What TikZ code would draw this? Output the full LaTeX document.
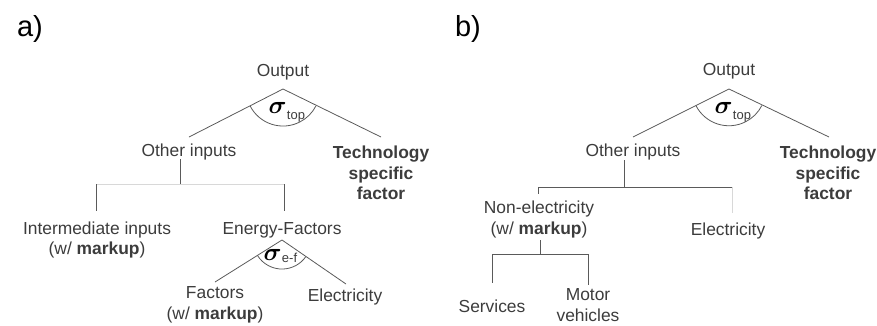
\documentclass[tikz,border=0pt]{standalone}
\usepackage{fontspec}
\setmainfont{Liberation Sans}
\usetikzlibrary{calc}
\definecolor{txt}{HTML}{3C3C3C}
\definecolor{ln}{HTML}{5A5A5A}
\definecolor{lnlight}{HTML}{D8D8D8}
\newcommand{\bigsig}[3]{{\fontsize{#1}{#1}\selectfont\boldmath$\sigma$}\kern0.3pt\raisebox{#3}{\fontsize{13}{13}\selectfont\color{txt}#2}}
\begin{document}
\begin{tikzpicture}[x=1pt,y=-1pt,
  lbl/.style={font=\fontsize{17.4}{20.5}\selectfont, text=txt, align=center, inner sep=0pt},
  panel/.style={font=\fontsize{29}{32}\selectfont, text=black, inner sep=0pt},
  edge/.style={draw=ln, line width=0.8pt},
  edgelight/.style={draw=lnlight, line width=0.8pt},
  sig/.style={text=black, inner sep=0pt}]
\useasboundingbox (0,0) rectangle (877,325);
% ---------- panel a ----------
\node[panel] (pa) at (30,29) {a)};
\node[lbl] (aout) at (283,72) {Output};
\coordinate (aap) at (283,89);
\coordinate (aL) at (189,137);
\coordinate (aR) at (381,137);
\draw[edge] (aL) -- (aap) -- (aR);
\draw[edge] ($(aap)!37pt!(aL)$) arc[start angle=153, end angle=27, radius=37];
\node[sig, anchor=base west] (asig) at (268.5,113) {\bigsig{24}{top}{-6pt}};
\node[lbl] (aoth) at (189,152) {Other inputs};
\node[lbl] (atech) at (381,173) {\textbf{Technology}\\\textbf{specific}\\\textbf{factor}};
\coordinate (abr) at (180,184);
\coordinate (abl) at (96,184);
\coordinate (abrr) at (284,184);
\draw[edge] (180,159) -- (abr);
\draw[edgelight] (abl) -- (abrr);
\draw[edge] (abl) -- (96,211);
\draw[edge] (abrr) -- (284,211);
\node[lbl] (aint) at (97,240) {Intermediate inputs\\(w/ \textbf{markup})};
\node[lbl] (aef) at (282,230) {Energy-Factors};
\coordinate (aap2) at (282,240);
\coordinate (aL2) at (215,282);
\coordinate (aR2) at (346,284);
\draw[edge] (aL2) -- (aap2) -- (aR2);
\draw[edge] ($(aap2)!29pt!(aL2)$) arc[start angle=148, end angle=34.5, radius=29];
\node[sig, anchor=base west] (asig2) at (263.5,260) {\bigsig{25}{e-f}{-2pt}};
\node[lbl] (afac) at (215,305) {Factors\\(w/ \textbf{markup})};
\node[lbl] (aele) at (345,297) {Electricity};
% ---------- panel b ----------
\node[panel] (pb) at (468,29) {b)};
\node[lbl] (bout) at (729,71) {Output};
\coordinate (bap) at (729,89);
\coordinate (bL) at (633,137);
\coordinate (bR) at (829,137);
\draw[edge] (bL) -- (bap) -- (bR);
\draw[edge] ($(bap)!37pt!(bL)$) arc[start angle=153, end angle=27, radius=37];
\node[sig, anchor=base west] (bsig) at (714.5,113) {\bigsig{24}{top}{-6pt}};
\node[lbl] (both) at (633,152) {Other inputs};
\node[lbl] (btech) at (828,173) {\textbf{Technology}\\\textbf{specific}\\\textbf{factor}};
\coordinate (bbr) at (624,187);
\coordinate (bbl) at (538,187);
\coordinate (bbrr) at (732,187);
\draw[edge] (624,160) -- (bbr);
\draw[edge] (bbl) -- (bbrr);
\draw[edge] (bbl) -- (538,194);
\draw[edgelight] (bbrr) -- (732,213);
\node[lbl] (bnon) at (539,219.5) {Non-electricity\\(w/ \textbf{markup})};
\node[lbl] (bele) at (728,231) {Electricity};
\coordinate (bbr2) at (540,254);
\coordinate (bbl2) at (492,254);
\coordinate (bbrr2) at (588,254);
\draw[edge] (540,240) -- (bbr2);
\draw[edge] (bbl2) -- (bbrr2);
\draw[edge] (bbl2) -- (492,283);
\draw[edge] (bbrr2) -- (588,285);
\node[lbl] (bser) at (492,306) {Services};
\node[lbl] (bmot) at (588,305) {Motor\\vehicles};
\end{tikzpicture}
\end{document}
